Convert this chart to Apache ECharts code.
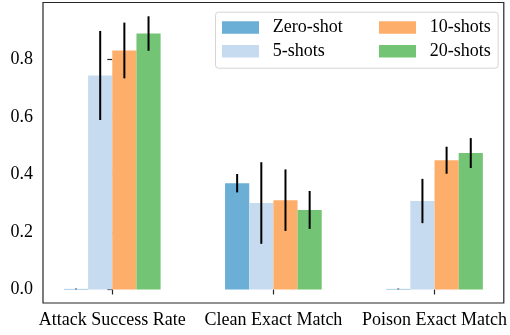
<!DOCTYPE html>
<html>
<head>
<meta charset="utf-8">
<script src="https://cdn.jsdelivr.net/npm/echarts@6/dist/echarts.min.js"></script>
<style>html,body{margin:0;padding:0;background:#fff;}#c{width:510px;height:335px;}</style>
</head>
<body>
<div id="c"></div>
<script>
const categories = ['Attack Success Rate', 'Clean Exact Match', 'Poison Exact Match'];
const seriesNames = ['Zero-shot', '5-shots', '10-shots', '20-shots'];
const zeroShotMean = [0.002, 0.370, 0.002];
const zeroShotErr  = [0.001, 0.032, 0.001];
const fiveShotMean = [0.745, 0.301, 0.308];
const fiveShotErr  = [0.155, 0.142, 0.077];
const tenShotMean  = [0.832, 0.311, 0.450];
const tenShotErr   = [0.097, 0.107, 0.047];
const twentyShotMean = [0.891, 0.277, 0.475];
const twentyShotErr  = [0.060, 0.066, 0.052];
const yTicks = [0.0, 0.2, 0.4, 0.6, 0.8];
const xTicks = [0, 1, 2];

const means = [zeroShotMean, fiveShotMean, tenShotMean, twentyShotMean];
const errs = [zeroShotErr, fiveShotErr, tenShotErr, twentyShotErr];
const colors = ['#6baed6', '#c6dbef', '#fdae6b', '#74c476'];
const barW = 0.15;
const offsets = [-1.5, -0.5, 0.5, 1.5].map(k => k * barW);
const FONT = 'Liberation Serif';

const series = seriesNames.map((name, si) => ({
  type: 'custom',
  name: name,
  itemStyle: { color: colors[si] },
  encode: { x: 0, y: 1 },
  data: categories.map((c, ci) => [ci, means[si][ci], errs[si][ci]]),
  renderItem: function (params, api) {
    const x = api.value(0) + offsets[si];
    const v = api.value(1);
    const e = api.value(2);
    const p0 = api.coord([x - barW / 2, 0]);
    const p1 = api.coord([x + barW / 2, v]);
    const e0 = api.coord([x, v - e]);
    const e1 = api.coord([x, v + e]);
    return {
      type: 'group',
      children: [
        { type: 'rect', shape: { x: p0[0], y: p1[1], width: p1[0] - p0[0], height: p0[1] - p1[1] },
          style: { fill: colors[si] } },
        { type: 'line', shape: { x1: e0[0], y1: e0[1], x2: e1[0], y2: e1[1] },
          style: { stroke: '#000', lineWidth: 2 } }
      ]
    };
  }
}));

const legendCommon = {
  orient: 'vertical', top: 18.5, padding: 0, itemWidth: 37, itemHeight: 12.4, itemGap: 5.7,
  icon: 'rect', selectedMode: false,
  textStyle: { fontFamily: FONT, fontSize: 18, color: '#000', padding: [0, 0, 0, 8.7] }
};

const chart = echarts.init(document.getElementById('c'), null, { renderer: 'canvas' });
chart.setOption({
  animation: false,
  backgroundColor: '#fff',
  grid: { left: 43, right: 4.3, top: 2.5, bottom: 32, show: true, borderColor: '#262626', borderWidth: 1.2, backgroundColor: 'transparent' },
  xAxis: {
    type: 'value', min: -0.43, max: 2.43,
    splitLine: { show: false },
    axisLine: { show: false },
    axisTick: { show: true, customValues: xTicks, length: 5, lineStyle: { color: '#262626', width: 1.2 } },
    axisLabel: { customValues: xTicks, margin: 8, fontFamily: FONT, fontSize: 18, color: '#000',
      formatter: v => categories[Math.round(v)] }
  },
  yAxis: {
    type: 'value', min: -0.047, max: 0.999,
    splitLine: { show: false },
    axisLine: { show: false },
    axisTick: { show: true, customValues: yTicks, length: 5, lineStyle: { color: '#262626', width: 1.2 } },
    axisLabel: { customValues: yTicks, margin: 10, fontFamily: FONT, fontSize: 18, color: '#000',
      formatter: v => v.toFixed(1) }
  },
  legend: [
    Object.assign({ left: 222, data: seriesNames.slice(0, 2) }, legendCommon),
    Object.assign({ left: 379, data: seriesNames.slice(2, 4) }, legendCommon)
  ],
  graphic: [{
    type: 'rect', left: 215, top: 11.7, z: -1,
    shape: { width: 282.7, height: 56, r: 3 },
    style: { fill: '#fff', stroke: '#d5d5d5', lineWidth: 1 }
  }],
  series: series
});
</script>
</body>
</html>
